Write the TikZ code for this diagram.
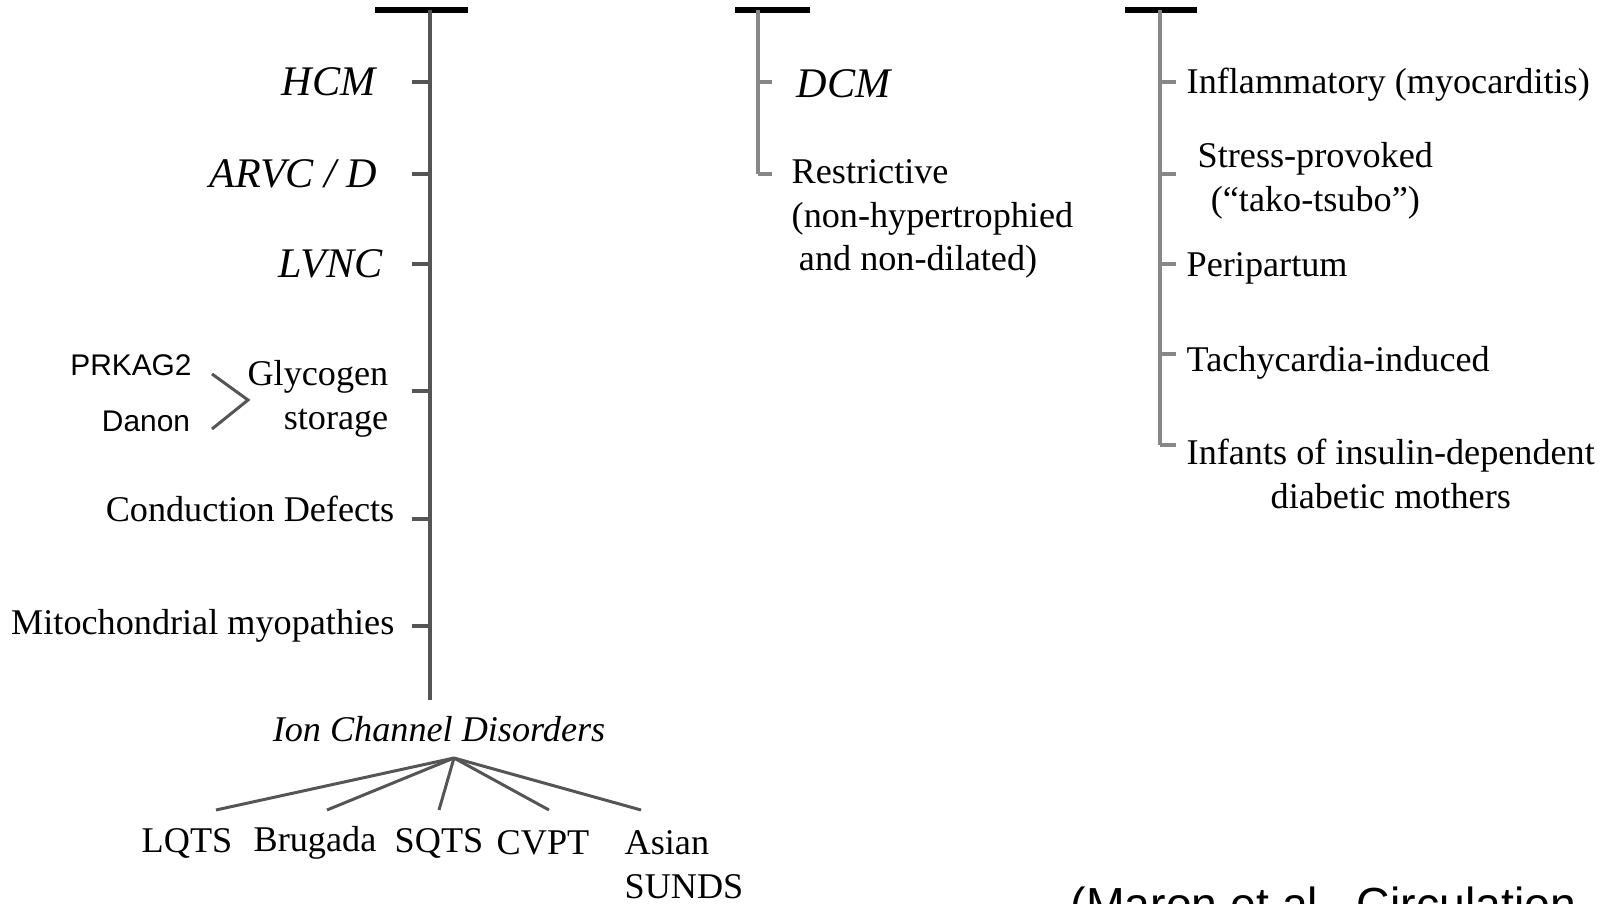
\documentclass[tikz,border=0pt]{standalone}
\usepackage{fontspec}
\setmainfont{Liberation Serif}
\newfontfamily\arialfont{Liberation Sans}
\usetikzlibrary{positioning}
\definecolor{stemgray}{RGB}{85,85,85}
\definecolor{lightgray}{RGB}{135,135,135}

\begin{document}
\begin{tikzpicture}[node distance=0.2cm,
    txt/.style={inner sep=0pt, font=\fontsize{10.3}{12.4}\selectfont},
    big/.style={inner sep=0pt, font=\fontsize{12}{14}\selectfont\itshape},
    gene/.style={inner sep=0pt, font=\fontsize{8.5}{10}\selectfont\arialfont},
    bar/.style={line width=1.8pt, black},
    stem/.style={line width=0.9pt, stemgray},
    lstem/.style={line width=0.9pt, lightgray},
    fan/.style={line width=0.85pt, stemgray}]
    \path[use as bounding box, clip] (0,0) rectangle (16.01,-9.04);
    % left tree
    \coordinate (Ltop) at (4.30,-0.10);
    \coordinate (Lbot) at (4.30,-7.00);
    \draw[bar] (3.75,-0.10) -- (4.68,-0.10);
    \draw[stem] (Ltop) -- (Lbot);
    \foreach \n/\y in {1/0.82,2/1.74,3/2.64,4/3.91,5/5.19,6/6.26}{
      \coordinate (L\n) at (4.30,-\y);
      \coordinate (Lt\n) at (4.12,-\y);
      \draw[stem] (L\n) -- (Lt\n);
    }
    \node[big, left=0.36cm of Lt1] (hcm) {HCM};
    \node[big, left=0.34cm of Lt2] (arvc) {ARVC / D};
    \node[big, left=0.29cm of Lt3] (lvnc) {LVNC};
    \node[txt, align=right, left=0.23cm of Lt4, yshift=-0.08cm] (gly) {Glycogen\\storage};
    \node[txt, left=0.17cm of Lt5, yshift=0.1cm] (cond) {Conduction Defects};
    \node[txt, left=0.17cm of Lt6] (mito) {Mitochondrial myopathies};
    \node[gene] (prk) at (1.31,-3.65) {PRKAG2};
    \node[gene] (dan) at (1.46,-4.21) {Danon};
    \coordinate (b1) at (2.12,-3.74);
    \coordinate (b2) at (2.48,-4.00);
    \coordinate (b3) at (2.12,-4.29);
    \draw[fan] (b1) -- (b2) -- (b3);
    % ion channels
    \node[txt, font=\fontsize{10.3}{12.4}\selectfont\itshape] (ion) at (4.39,-7.29) {Ion Channel Disorders};
    \coordinate (apex) at (4.54,-7.58);
    \foreach \n/\x in {1/2.16,2/3.27,3/4.39,4/5.49,5/6.41}{
      \coordinate (f\n) at (\x,-8.10);
      \draw[fan] (apex) -- (f\n);
    }
    \node[txt] (lqts) at (1.87,-8.43) {LQTS};
    \node[txt] (brug) at (3.15,-8.43) {Brugada};
    \node[txt] (sqts) at (4.39,-8.43) {SQTS};
    \node[txt] (cvpt) at (5.43,-8.43) {CVPT};
    \node[txt, align=left, anchor=west] (asian) at (6.24,-8.645) {Asian\\SUNDS};
    % middle tree
    \coordinate (Mtop) at (7.58,-0.10);
    \coordinate (M2) at (7.58,-1.74);
    \draw[bar] (7.35,-0.10) -- (8.10,-0.10);
    \draw[lstem] (Mtop) -- (M2);
    \coordinate (M1) at (7.58,-0.82);
    \coordinate (Mt1) at (7.72,-0.82);
    \coordinate (Mt2) at (7.72,-1.74);
    \draw[lstem] (M1) -- (Mt1);
    \draw[lstem] (M2) -- (Mt2);
    \node[big, right=0.24cm of Mt1, yshift=-0.02cm] (dcm) {DCM};
    \node[txt, align=left, anchor=west] (restr) at (7.91,-2.19) {Restrictive\\(non-hypertrophied\\\hspace{0.2em}and non-dilated)};
    % right tree
    \coordinate (Rtop) at (11.60,-0.10);
    \coordinate (Rbot) at (11.60,-4.45);
    \draw[bar] (11.25,-0.10) -- (11.97,-0.10);
    \draw[lstem] (Rtop) -- (Rbot);
    \foreach \n/\y in {1/0.82,2/1.74,3/2.64,4/3.54,5/4.45}{
      \coordinate (R\n) at (11.60,-\y);
      \coordinate (Rt\n) at (11.76,-\y);
      \draw[lstem] (R\n) -- (Rt\n);
    }
    \node[txt, right=0.10cm of Rt1, yshift=-0.03cm] (infl) {Inflammatory (myocarditis)};
    \node[txt, align=center, right=0.21cm of Rt2, yshift=-0.07cm] (stress) {Stress-provoked\\(``tako-tsubo'')};
    \node[txt, right=0.10cm of Rt3, yshift=-0.04cm] (peri) {Peripartum};
    \node[txt, right=0.10cm of Rt4, yshift=-0.09cm] (tachy) {Tachycardia-induced};
    \node[txt, align=center, right=0.10cm of Rt5, yshift=-0.29cm] (infant) {Infants of insulin-dependent\\diabetic mothers};
    % source
    \node[inner sep=0pt, anchor=north west, font=\fontsize{13.2}{15}\selectfont\arialfont] (cite) at (10.70,-8.86) {(Maron et al., Circulation};
\end{tikzpicture}
\end{document}
